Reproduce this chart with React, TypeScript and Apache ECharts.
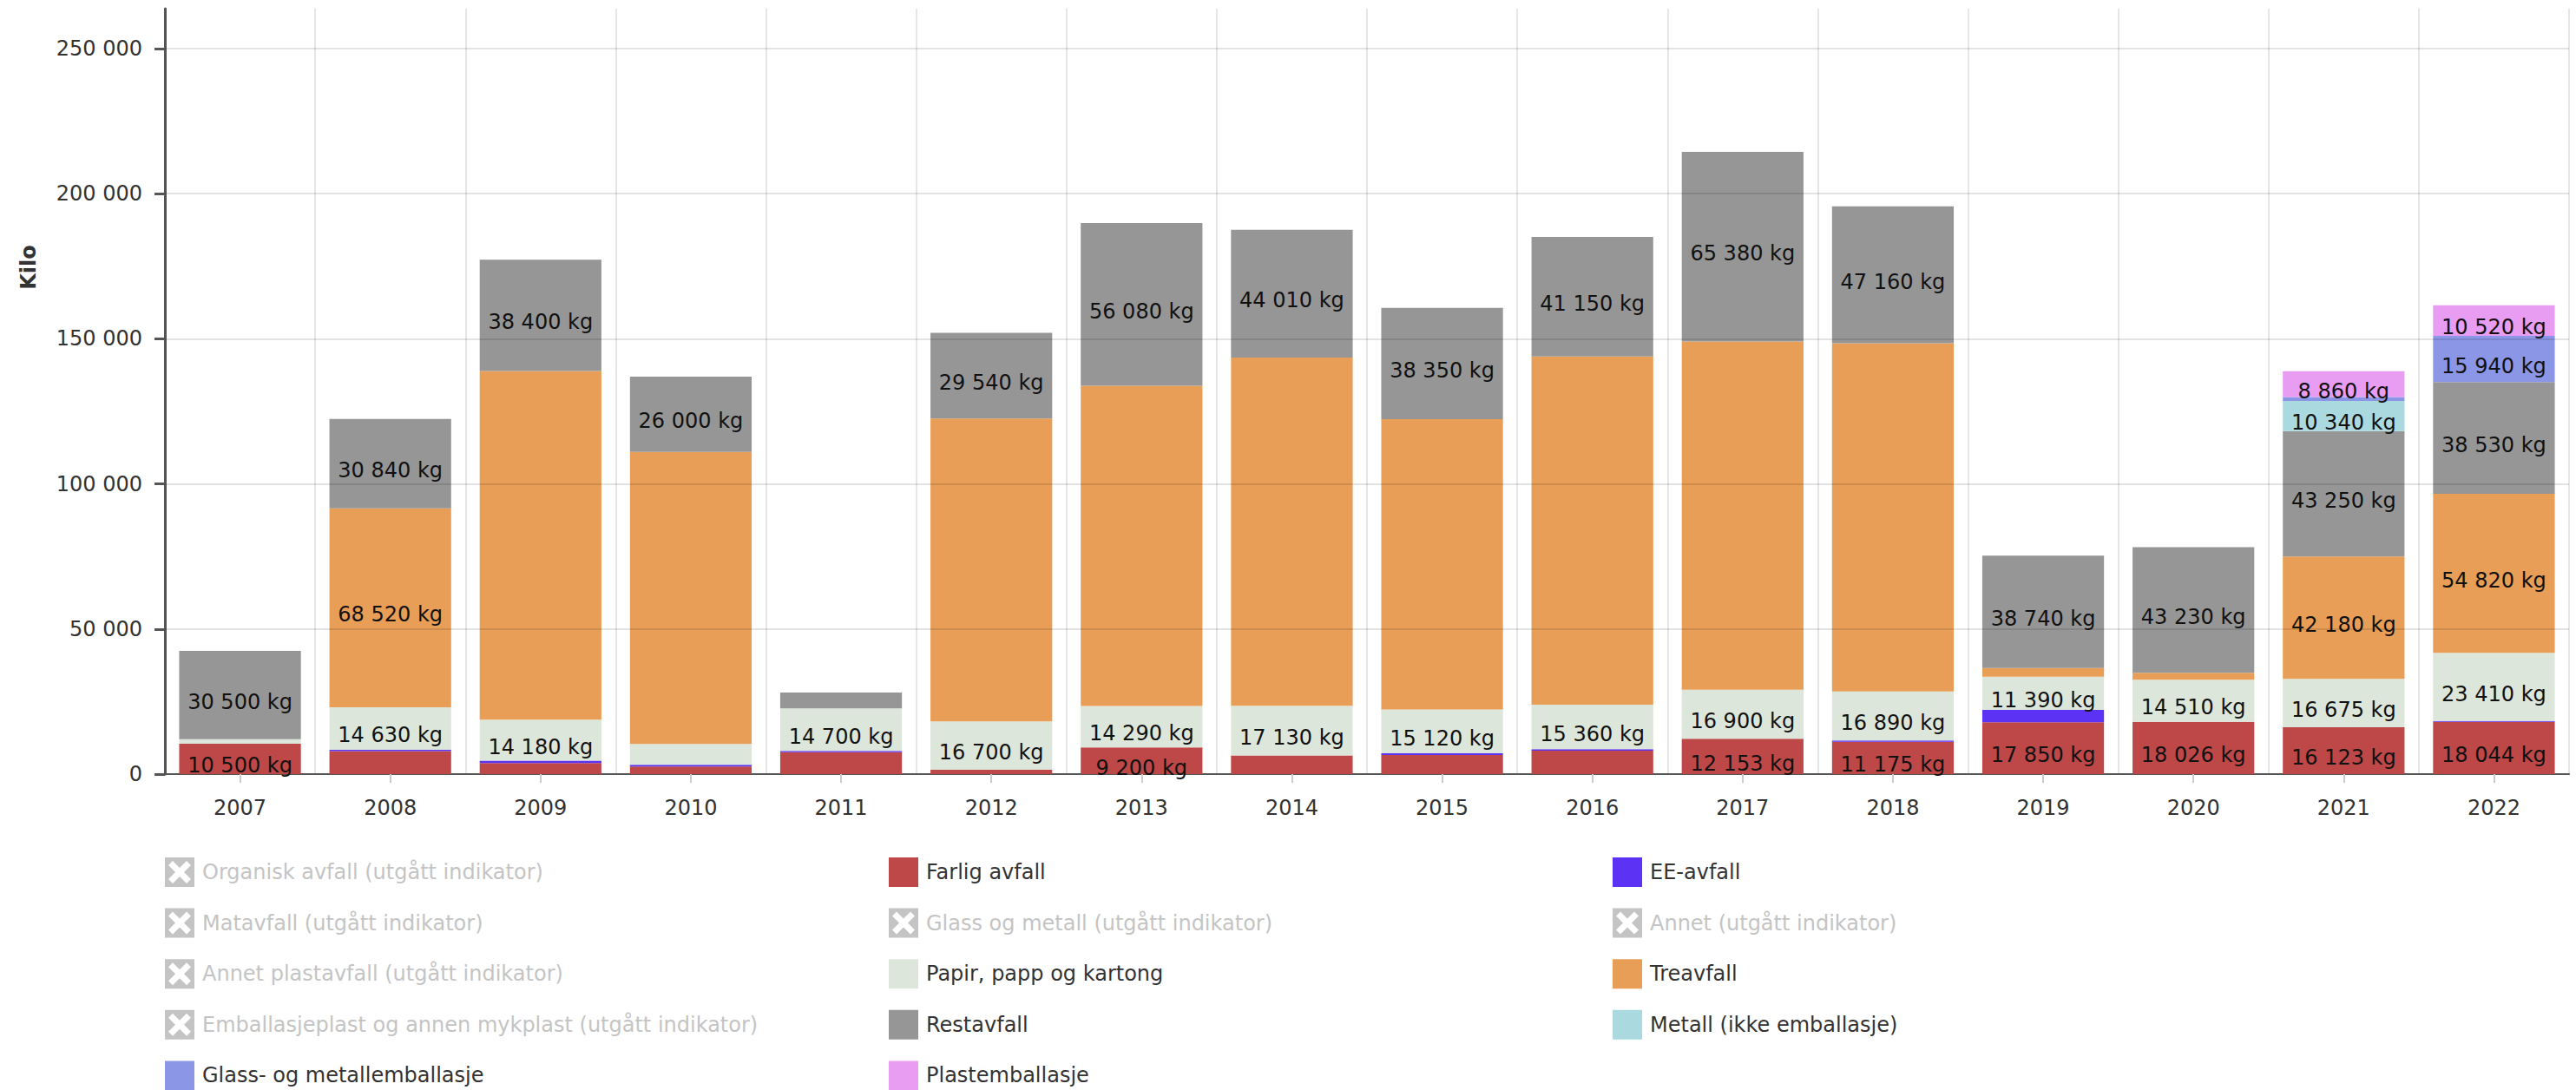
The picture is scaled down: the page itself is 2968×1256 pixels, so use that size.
import React, { useEffect, useRef } from 'react';
import * as echarts from 'echarts';

// ---------- data ----------
const years = ['2007', '2008', '2009', '2010', '2011', '2012', '2013', '2014', '2015', '2016', '2017', '2018', '2019', '2020', '2021', '2022'];

const farligAvfall = [10500, 7900, 3800, 2600, 7570, 1500, 9200, 6400, 6580, 8070, 12153, 11175, 17850, 18026, 16123, 18044];
const eeAvfall = [0, 500, 800, 600, 400, 0, 0, 0, 600, 500, 0, 400, 4300, 0, 0, 300];
const papir = [1500, 14630, 14180, 7180, 14700, 16700, 14290, 17130, 15120, 15360, 16900, 16890, 11390, 14510, 16675, 23410];
const treavfall = [0, 68520, 120100, 100600, 0, 104300, 110300, 120000, 100000, 120000, 120000, 120000, 3000, 2400, 42180, 54820];
const restavfall = [30500, 30840, 38400, 26000, 5450, 29540, 56080, 44010, 38350, 41150, 65380, 47160, 38740, 43230, 43250, 38530];
const metall = [0, 0, 0, 0, 0, 0, 0, 0, 0, 0, 0, 0, 0, 0, 10340, 0];
const glassMetallEmb = [0, 0, 0, 0, 0, 0, 0, 0, 0, 0, 0, 0, 0, 0, 1400, 15940];
const plastemballasje = [0, 0, 0, 0, 0, 0, 0, 0, 0, 0, 0, 0, 0, 0, 8860, 10520];

const treaLabelYears = ['2008', '2021', '2022'];
const labelMin = 8500;

const yTicks = [0, 50000, 100000, 150000, 200000, 250000];
const gridValues = [50000, 100000, 150000, 200000, 250000];

// legend grid: rows of up to three columns
const legendRows = [
  ['Organisk avfall (utgått indikator)', 'Farlig avfall', 'EE-avfall'],
  ['Matavfall (utgått indikator)', 'Glass og metall (utgått indikator)', 'Annet (utgått indikator)'],
  ['Annet plastavfall (utgått indikator)', 'Papir, papp og kartong', 'Treavfall'],
  ['Emballasjeplast og annen mykplast (utgått indikator)', 'Restavfall', 'Metall (ikke emballasje)'],
  ['Glass- og metallemballasje', 'Plastemballasje'],
];

const hiddenSeries = [
  'Organisk avfall (utgått indikator)',
  'Matavfall (utgått indikator)',
  'Annet plastavfall (utgått indikator)',
  'Emballasjeplast og annen mykplast (utgått indikator)',
  'Glass og metall (utgått indikator)',
  'Annet (utgått indikator)',
];

// ---------- styling ----------
const FONT = 'DejaVu Sans';
const X_ICON = 'path://M0 0H34V34H0Z M12 17L4 25L9 30L17 22L25 30L30 25L22 17L30 9L25 4L17 12L9 4L4 9Z';
const LEGEND_COL_X = [190, 1024, 1858];
const LEGEND_TOP = 988;
const LEGEND_ROW_H = 58.6;

const fmt = (v: number) => String(Math.round(v)).replace(/\B(?=(\d{3})+(?!\d))/g, ' ');

const visible: { name: string; values: number[]; color: string }[] = [
  { name: 'Farlig avfall', values: farligAvfall, color: '#be4747' },
  { name: 'EE-avfall', values: eeAvfall, color: '#5c33f5' },
  { name: 'Papir, papp og kartong', values: papir, color: '#dde6da' },
  { name: 'Treavfall', values: treavfall, color: '#e89e56' },
  { name: 'Restavfall', values: restavfall, color: '#969696' },
  { name: 'Metall (ikke emballasje)', values: metall, color: '#aadae0' },
  { name: 'Glass- og metallemballasje', values: glassMetallEmb, color: '#8c96e6' },
  { name: 'Plastemballasje', values: plastemballasje, color: '#e89cf2' },
];

export default function App() {
  const ref = useRef<HTMLDivElement>(null);

  useEffect(() => {
    if (!ref.current) return;
    const chart = echarts.init(ref.current, undefined, { renderer: 'svg' });

    const series: any[] = visible.map((s, idx) => {
      const data = s.values.map((v, i) => {
        const show = s.name === 'Treavfall' ? treaLabelYears.includes(years[i]) : v >= labelMin;
        return { value: v, label: { show } };
      });
      const ser: any = {
        type: 'bar',
        name: s.name,
        stack: 'total',
        barCategoryGap: '19%',
        data,
        itemStyle: { color: s.color },
        label: {
          show: false,
          position: 'inside',
          formatter: (p: any) => fmt(p.value) + ' kg',
          color: '#111',
          fontSize: 24,
          fontFamily: FONT,
          offset: [0, 8],
        },
        emphasis: { disabled: true },
        silent: true,
      };
      if (idx === visible.length - 1) {
        ser.markLine = {
          silent: true,
          symbol: ['none', 'none'],
          label: { show: false },
          emphasis: { disabled: true },
          lineStyle: { color: 'rgba(0,0,0,0.11)', width: 2, type: 'solid' },
          data: gridValues.map((v) => ({ yAxis: v })),
        };
      }
      return ser;
    });

    hiddenSeries.forEach((name) => {
      series.push({ type: 'bar', name, stack: 'total', data: [], itemStyle: { color: '#cccccc' } });
    });

    // one single-item legend per cell so the grid of the reference is kept exactly
    const legends: any[] = [];
    legendRows.forEach((row, r) => {
      row.forEach((name, c) => {
        const hidden = hiddenSeries.includes(name);
        legends.push({
          orient: 'horizontal',
          left: LEGEND_COL_X[c],
          top: LEGEND_TOP + r * LEGEND_ROW_H,
          itemWidth: 34,
          itemHeight: 34,
          padding: 0,
          inactiveColor: '#c4c4c4',
          inactiveBorderColor: '#c4c4c4',
          itemStyle: { borderWidth: 0 },
          textStyle: { fontSize: 24, fontFamily: FONT, color: '#333333', padding: [0, 0, 0, 4] },
          selected: hidden ? { [name]: false } : { [name]: true },
          data: [{ name, icon: hidden ? X_ICON : 'rect' }],
        });
      });
    });

    chart.setOption({
      animation: false,
      grid: { left: 190, right: 8, top: 10, bottom: 364, containLabel: false },
      legend: legends,
      xAxis: {
        type: 'category',
        data: years,
        axisLine: { show: true, lineStyle: { color: '#555555', width: 2 } },
        axisTick: { show: true, alignWithLabel: true, length: 10, lineStyle: { color: '#cccccc', width: 2 } },
        axisLabel: { fontSize: 24, fontFamily: FONT, color: '#333333', margin: 27 },
        splitLine: { show: true, lineStyle: { color: '#e6e6e6', width: 2 } },
      },
      yAxis: {
        type: 'value',
        min: 0,
        max: 263750,
        interval: 50000,
        axisLine: { show: true, lineStyle: { color: '#555555', width: 3 } },
        axisTick: { show: true, length: 12, lineStyle: { color: '#555555', width: 3 }, customValues: yTicks },
        axisLabel: {
          customValues: yTicks,
          formatter: (v: number) => fmt(v),
          fontSize: 24,
          fontFamily: FONT,
          color: '#333333',
          margin: 26,
        },
        splitLine: { show: false },
      },
      graphic: [
        {
          type: 'text',
          x: 33,
          y: 308,
          rotation: Math.PI / 2,
          style: {
            text: 'Kilo',
            fontSize: 24,
            fontWeight: 'bold',
            fontFamily: FONT,
            fill: '#333333',
            align: 'center',
            verticalAlign: 'middle',
          },
        },
      ],
      series,
    });

    return () => chart.dispose();
  }, []);

  return <div ref={ref} style={{ position: 'absolute', left: 0, top: 0, width: '2968px', height: '1256px' }} />;
}
